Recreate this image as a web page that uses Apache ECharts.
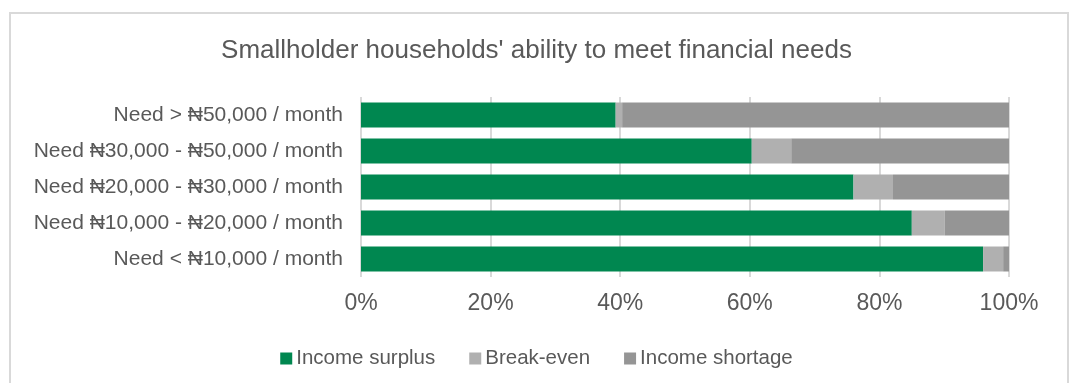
<!DOCTYPE html>
<html>
<head>
<meta charset="utf-8">
<script src="https://cdn.jsdelivr.net/npm/echarts@6/dist/echarts.min.js"></script>
<style>
  html, body { margin: 0; padding: 0; background: #ffffff; }
  #chart { width: 1073px; height: 383px; }
</style>
</head>
<body>
<div id="chart"></div>
<script>
// Household need brackets, listed bottom to top
const categories = [
  'Need < ₦10,000 / month',
  'Need ₦10,000 - ₦20,000 / month',
  'Need ₦20,000 - ₦30,000 / month',
  'Need ₦30,000 - ₦50,000 / month',
  'Need > ₦50,000 / month'
];
// Share of households (%) in each bracket
const incomeSurplus   = [96.0, 85.0, 76.0, 60.3, 39.3];
const breakEven       = [3.1, 5.1, 6.1, 6.1, 1.0];
const incomeShortage  = [0.9, 9.9, 17.9, 33.6, 59.7];

const textColor = '#595959';
const fontFamily = '"Liberation Sans", Arial, "DejaVu Sans", sans-serif';

const chart = echarts.init(document.getElementById('chart'), null, { renderer: 'canvas' });

const makeSeries = (name, data, color) => ({
  name,
  type: 'bar',
  stack: 'total',
  data,
  barWidth: 25,
  itemStyle: { color },
  emphasis: { disabled: true }
});

chart.setOption({
  backgroundColor: '#ffffff',
  animation: false,
  textStyle: { fontFamily },
  graphic: [{
    type: 'rect',
    shape: { x: 10, y: 13, width: 1058, height: 390 },
    style: { fill: 'none', stroke: '#d9d9d9', lineWidth: 2 },
    silent: true
  }],
  title: {
    text: "Smallholder households' ability to meet financial needs",
    left: 'center',
    top: 33,
    textStyle: { color: textColor, fontSize: 26, fontWeight: 'normal', fontFamily }
  },
  legend: {
    top: 343,
    left: 'center',
    itemWidth: 12,
    itemHeight: 12,
    itemGap: 34,
    icon: 'rect',
    textStyle: { color: textColor, fontSize: 20.5, fontFamily, padding: [0, 0, 0, -1] },
    data: ['Income surplus', 'Break-even', 'Income shortage']
  },
  grid: { left: 361, right: 64, top: 97, bottom: 106, containLabel: false },
  xAxis: {
    type: 'value',
    min: 0,
    max: 100,
    interval: 20,
    axisLine: { show: false },
    axisTick: { show: false },
    splitLine: { show: true, lineStyle: { color: '#d9d9d9', width: 2 } },
    axisLabel: {
      formatter: '{value}%',
      color: textColor,
      fontSize: 23,
      margin: 15
    }
  },
  yAxis: {
    type: 'category',
    data: categories,
    axisLine: { show: false },
    axisTick: { show: false },
    axisLabel: { color: textColor, fontSize: 21, margin: 18 }
  },
  series: [
    makeSeries('Income surplus', incomeSurplus, '#008750'),
    makeSeries('Break-even', breakEven, '#b0b0b0'),
    makeSeries('Income shortage', incomeShortage, '#959595')
  ]
});
</script>
</body>
</html>
